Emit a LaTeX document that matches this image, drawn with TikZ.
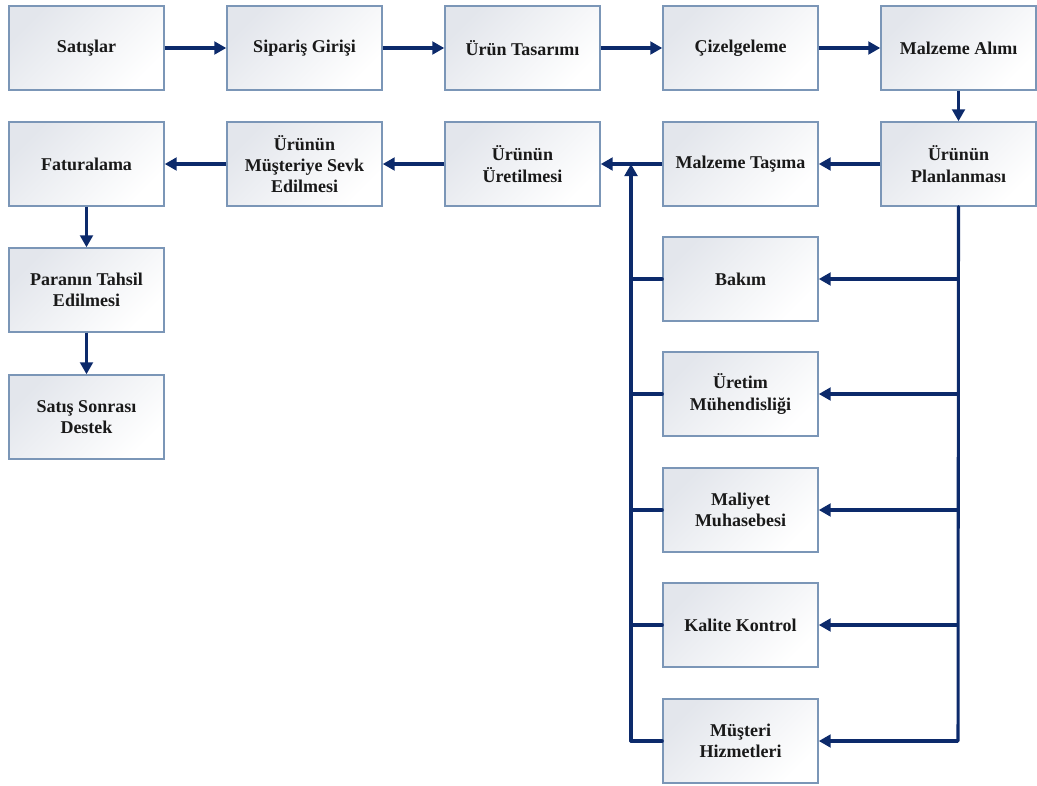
\documentclass[tikz,border=0pt]{standalone}
\usepackage{fontspec}
\setmainfont{Liberation Serif}
\usetikzlibrary{arrows.meta}
\definecolor{flow}{HTML}{0C2A6B}
\definecolor{edge}{HTML}{7B96B7}
\definecolor{shadetop}{HTML}{E3E6EC}
\tikzset{
  procbox/.style={draw=edge, line width=1.1pt, top color=shadetop, bottom color=white,
    shading angle=45, minimum width=116.25pt, minimum height=63pt, inner sep=2pt,
    align=center, font=\bfseries\fontsize{13.5}{16}\selectfont, text=black!90},
  flowarrow/.style={draw=flow, line width=2.3pt, -{Triangle[length=9pt,width=9.5pt]}},
  flowline/.style={draw=flow, line width=2.3pt, line cap=round, line join=round}
}
\begin{document}
\begin{tikzpicture}[x=0.75pt, y=-0.75pt]
\useasboundingbox (0,0) rectangle (1037,785);
% top row
\node[procbox] (sat) at (86.5,48) {Satışlar};
\node[procbox] (sip) at (304.5,48) {Sipariş Girişi};
\node[procbox] (tas) at (522.5,48) {Ürün Tasarımı};
\node[procbox] (ciz) at (740.5,48) {Çizelgeleme};
\node[procbox] (alim) at (958.5,48) {Malzeme Alımı};
% second row
\node[procbox] (fat) at (86.5,164) {Faturalama};
\node[procbox] (sevk) at (304.5,164) {Ürünün\\Müşteriye Sevk\\Edilmesi};
\node[procbox] (uret) at (522.5,164) {Ürünün\\Üretilmesi};
\node[procbox] (tasima) at (740.5,164) {Malzeme Taşıma};
\node[procbox] (plan) at (958.5,164) {Ürünün\\Planlanması};
% left column
\node[procbox] (tahsil) at (86.5,290) {Paranın Tahsil\\Edilmesi};
\node[procbox] (destek) at (86.5,417) {Satış Sonrası\\Destek};
% support functions
\node[procbox] (bakim) at (740.5,279) {Bakım};
\node[procbox] (muh) at (740.5,394) {Üretim\\Mühendisliği};
\node[procbox] (mal) at (740.5,510) {Maliyet\\Muhasebesi};
\node[procbox] (kal) at (740.5,625) {Kalite Kontrol};
\node[procbox] (mus) at (740.5,741) {Müşteri\\Hizmetleri};

% main flow
\draw[flowarrow] (sat) -- (sip);
\draw[flowarrow] (sip) -- (tas);
\draw[flowarrow] (tas) -- (ciz);
\draw[flowarrow] (ciz) -- (alim);
\draw[flowarrow] (alim) -- (plan);
\draw[flowarrow] (plan) -- (tasima);
\draw[flowarrow] (tasima) -- (uret);
\draw[flowarrow] (uret) -- (sevk);
\draw[flowarrow] (sevk) -- (fat);
\draw[flowarrow] (fat) -- (tahsil);
\draw[flowarrow] (tahsil) -- (destek);

% planning bus to support functions
\coordinate (rtop) at (958,206);
\coordinate (rbot) at (958,741);
\draw[flowline] (plan.south) -- (rbot);
\foreach \n in {bakim,muh,mal,kal,mus}
  \draw[flowarrow] (rtop |- \n.east) -- (\n.east);

% support functions feeding production
\coordinate (lbot) at (631,741);
\coordinate (ltop) at (631,164);
\foreach \n in {bakim,muh,mal,kal,mus}
  \draw[flowline] (\n.west) -- (lbot |- \n.west);
\draw[flowline] (lbot) -- (631,200);
\draw[flowarrow] (631,200) -- (ltop);
\end{tikzpicture}
\end{document}
